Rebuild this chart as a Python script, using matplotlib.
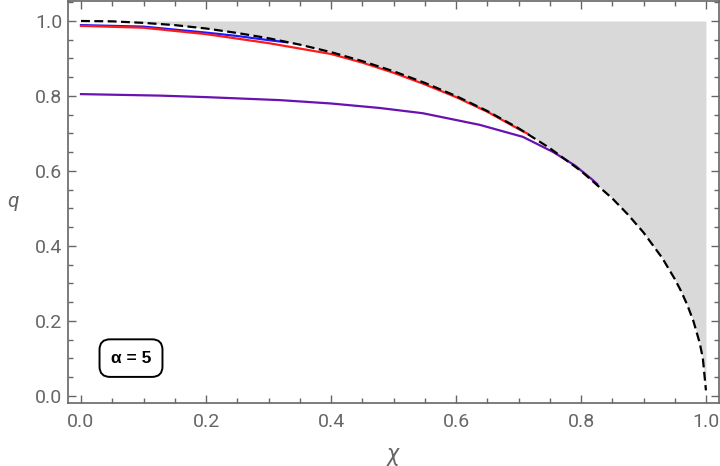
#!/usr/bin/env python3

import matplotlib
matplotlib.use("Agg")
import matplotlib.pyplot as plt
from matplotlib.ticker import MultipleLocator

# boundary curve (dashed)
chi_bound = [0.0, 0.05, 0.1, 0.15, 0.2, 0.25, 0.3, 0.35, 0.4, 0.45, 0.5, 0.55, 0.6,
             0.65, 0.7, 0.75, 0.8, 0.85, 0.875, 0.9, 0.93, 0.95, 0.96, 0.97,
             0.98, 0.99, 0.995, 0.9999]
q_bound = [1.0, 0.999, 0.995, 0.989, 0.98, 0.968, 0.954, 0.937, 0.917, 0.893, 0.866,
           0.835, 0.8, 0.76, 0.714, 0.661, 0.6, 0.527, 0.484, 0.436, 0.368, 0.312,
           0.28, 0.243, 0.199, 0.141, 0.1, 0.015]

# blue curve
chi_blue = [0.0, 0.1, 0.2, 0.25, 0.3, 0.33]
q_blue = [0.989, 0.985, 0.969, 0.960, 0.949, 0.943]

# red curve
chi_red = [0.0, 0.1, 0.2, 0.3, 0.4, 0.45, 0.5, 0.55, 0.6, 0.65, 0.7, 0.715]
q_red = [0.987, 0.982, 0.965, 0.941, 0.912, 0.889, 0.862, 0.831, 0.797, 0.758, 0.712, 0.699]

# purple curve
chi_purple = [0.0, 0.126, 0.2, 0.318, 0.4, 0.478, 0.547, 0.638, 0.707, 0.755,
              0.79, 0.818, 0.826]
q_purple = [0.805, 0.801, 0.797, 0.789, 0.780, 0.768, 0.754, 0.723, 0.691, 0.651,
            0.615, 0.577, 0.565]

gray = '#666666'

fig = plt.figure(figsize=(7.2, 4.66), dpi=100)
ax = fig.add_axes([68 / 720, 63 / 466, 651 / 720, 402 / 466])

# forbidden region above the boundary
ax.fill_between(chi_bound, q_bound, 1.0, color='#d9d9d9', lw=0, zorder=1)

ax.plot(chi_blue, q_blue, color='#1a1aff', lw=1.6, zorder=3)
ax.plot(chi_red, q_red, color='#ff1a1a', lw=1.6, zorder=3)
ax.plot(chi_purple, q_purple, color='#6a12b0', lw=1.6, zorder=3)
ax.plot(chi_bound, q_bound, color='black', lw=1.6, dashes=[4.0, 2.0], zorder=4)

ax.set_xlim(-0.0208, 1.0208)
ax.set_ylim(-0.0187, 1.0533)

ax.xaxis.set_minor_locator(MultipleLocator(0.05))
ax.yaxis.set_minor_locator(MultipleLocator(0.05))
ax.set_xticks([0.0, 0.2, 0.4, 0.6, 0.8, 1.0])
ax.set_yticks([0.0, 0.2, 0.4, 0.6, 0.8, 1.0])
ax.set_xticklabels(['0.0', '0.2', '0.4', '0.6', '0.8', '1.0'])
ax.set_yticklabels(['0.0', '0.2', '0.4', '0.6', '0.8', '1.0'])

ax.tick_params(which='both', direction='in', top=True, right=True,
               color=gray, labelcolor=gray, width=1)
ax.tick_params(which='major', length=6)
ax.tick_params(which='minor', length=3.5)
ax.tick_params(axis='x', which='major', pad=7)
ax.tick_params(axis='y', which='major', pad=4)
for lab in ax.get_xticklabels() + ax.get_yticklabels():
    lab.set_fontfamily('Roboto')
    lab.set_fontsize(14)

for sp in ax.spines.values():
    sp.set_color(gray)
    sp.set_linewidth(1.2)

# axis labels
ax.text(0.5, -0.128, 'χ', transform=ax.transAxes, fontsize=17, color=gray,
        style='italic', family='Roboto', ha='center', va='center')
ax.text(-0.085, 0.5, 'q', transform=ax.transAxes, fontsize=15, color=gray,
        style='italic', family='Roboto', ha='center', va='center')

ax.text(0.08, 0.101, 'α = 5', fontsize=12.5, fontweight='bold',
        family='Liberation Sans', ha='center', va='center', zorder=5,
        bbox=dict(boxstyle='round,pad=0.65,rounding_size=0.6', fc='white',
                  ec='black', lw=1.4))

fig.savefig('out.png', dpi=100)
